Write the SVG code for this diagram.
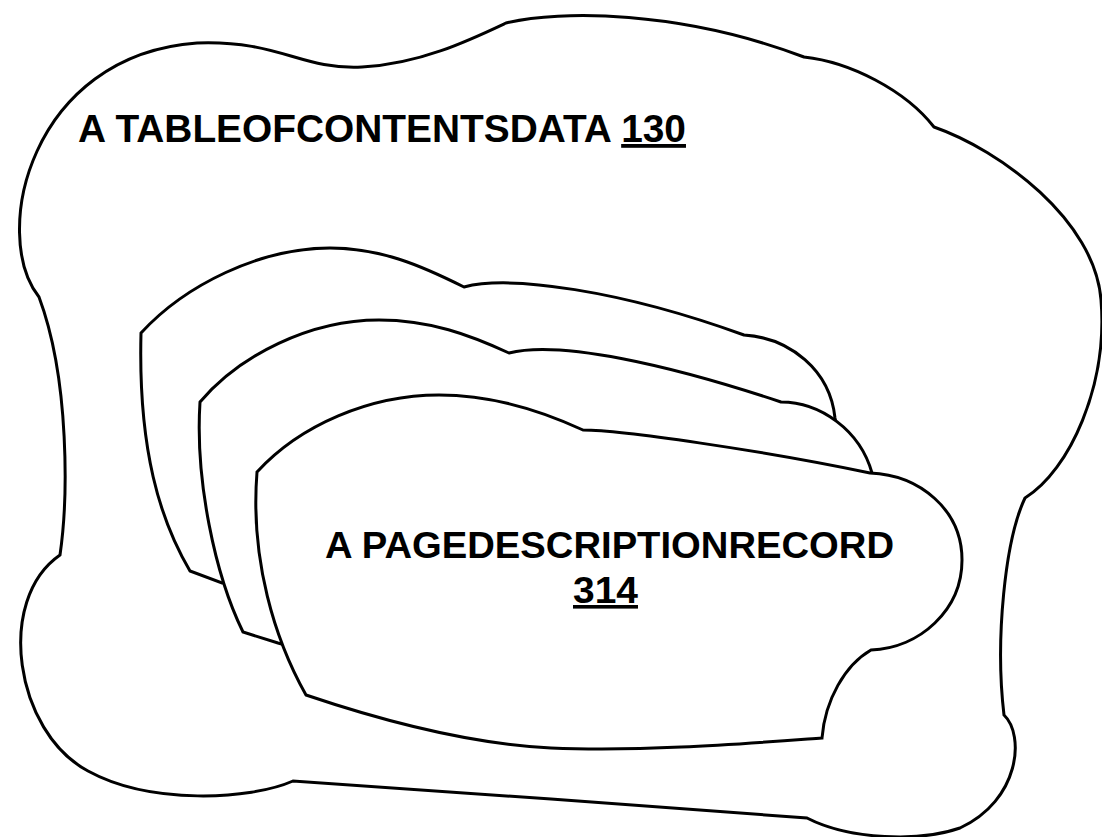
<svg xmlns="http://www.w3.org/2000/svg" width="1102" height="837" viewBox="0 0 1102 837">
<style>
.blob{fill:#fff;stroke:#000;stroke-width:3;stroke-linejoin:miter;stroke-miterlimit:10}
.lbl{font-family:"Liberation Sans",Arial,sans-serif;font-weight:bold;fill:#000}
.u{text-decoration:underline}
</style>
<rect width="1102" height="837" fill="#fff"/>
<g id="table-of-contents-data">
<path class="blob" d="M506 23 C560 10 680 10 804 57 C850 62 905 90 934 127 C1000 150 1095 220 1101 300 C1108 385 1070 470 1025 498 C1005 540 995 640 1004 715 C1025 735 1020 800 960 828 C920 842 850 840 807 818 L551 799 L293 781 C250 800 150 805 88 771 C15 732 -5 600 60 555 C68 500 70 380 39 297 C-10 235 30 55 197 43 C280 40 300 70 362 67 C420 64 470 40 506 23 Z"/>
<text class="lbl" x="78" y="142" font-size="38" textLength="608" lengthAdjust="spacingAndGlyphs">A TABLEOFCONTENTSDATA <tspan class="u">130</tspan></text>
</g>
<g id="page-record-back">
<path class="blob" d="M141 333 C185 285 260 248 330 248 C380 248 420 265 464 287 C510 275 620 290 744 335 C790 338 830 370 835 418 L845 470 L600 560 L222 583 L190 571 C160 520 138 450 141 333 Z"/>
</g>
<g id="page-record-middle">
<path class="blob" d="M200 402 C240 355 310 320 379 320 C430 320 470 335 509 353 C560 340 670 365 781 402 C820 402 860 430 872 473 L900 560 L600 650 L285 645 L278 643 L243 632 C215 575 195 480 200 402 Z"/>
</g>
<g id="page-description-record">
<path class="blob" d="M257 472 C300 425 370 395 439 395 C490 395 540 410 583 430 C620 430 760 450 870 473 C920 475 962 510 962 560 C962 610 920 648 871 650 C845 665 825 700 822 738 C740 744 640 752 551 748 C470 744 380 720 306 695 C275 640 250 560 257 472 Z"/>
<text class="lbl" x="325" y="558" font-size="36" textLength="569" lengthAdjust="spacingAndGlyphs">A PAGEDESCRIPTIONRECORD</text>
<text class="lbl u" x="573" y="603" font-size="36" textLength="65" lengthAdjust="spacingAndGlyphs">314</text>
</g>
<g id="connectors"></g>
</svg>
